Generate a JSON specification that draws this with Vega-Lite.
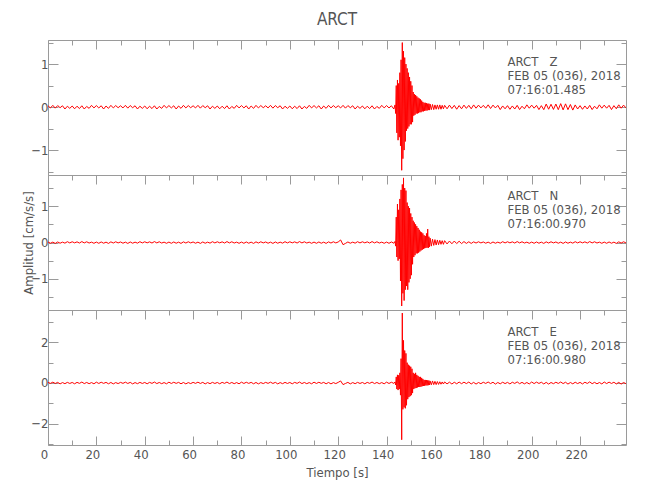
{
  "$schema": "https://vega.github.io/schema/vega-lite/v6.json",
  "background": "white",
  "padding": {"left": 22, "top": 10, "right": 5, "bottom": 5},
  "bounds": "flush",
  "spacing": 0,
  "datasets": {
    "seis": [
      {"t":0,"Z":0.03,"N":0.015,"E":0.03},{"t":1,"Z":-0.02,"N":-0.02,"E":-0.02},{"t":2,"Z":0.04,"N":0.01,"E":0.04},{"t":3,"Z":-0.025,"N":-0.025,"E":-0.025},{"t":4,"Z":0.035,"N":0.015,"E":0.03},{"t":5,"Z":-0.015,"N":-0.02,"E":-0.045},{"t":6,"Z":0.03,"N":0.01,"E":0.02},{"t":7,"Z":-0.045,"N":-0.018,"E":-0.035},{"t":8,"Z":0.02,"N":0.022,"E":0.03},{"t":9,"Z":-0.03,"N":-0.012,"E":-0.025},
      {"t":10,"Z":0.025,"N":0.02,"E":0.025},{"t":11,"Z":-0.04,"N":-0.01,"E":-0.04},{"t":12,"Z":0.02,"N":0.018,"E":0.03},{"t":13,"Z":-0.035,"N":-0.015,"E":-0.02},{"t":14,"Z":0.03,"N":0.025,"E":0.045},{"t":15,"Z":-0.045,"N":-0.012,"E":-0.03},{"t":16,"Z":0.015,"N":0.02,"E":0.025},{"t":17,"Z":-0.03,"N":-0.015,"E":-0.035},{"t":18,"Z":0.04,"N":0.01,"E":0.02},{"t":19,"Z":-0.02,"N":-0.022,"E":-0.04},
      {"t":20,"Z":0.035,"N":0.012,"E":0.04},{"t":21,"Z":-0.02,"N":-0.022,"E":-0.025},{"t":22,"Z":0.03,"N":0.015,"E":0.035},{"t":23,"Z":-0.045,"N":-0.02,"E":-0.02},{"t":24,"Z":0.025,"N":0.01,"E":0.03},{"t":25,"Z":-0.03,"N":-0.025,"E":-0.04},{"t":26,"Z":0.04,"N":0.018,"E":0.025},{"t":27,"Z":-0.02,"N":-0.015,"E":-0.045},{"t":28,"Z":0.035,"N":0.02,"E":0.02},{"t":29,"Z":-0.015,"N":-0.012,"E":-0.03},
      {"t":30,"Z":0.03,"N":0.015,"E":0.03},{"t":31,"Z":-0.02,"N":-0.02,"E":-0.02},{"t":32,"Z":0.04,"N":0.01,"E":0.04},{"t":33,"Z":-0.025,"N":-0.025,"E":-0.025},{"t":34,"Z":0.035,"N":0.015,"E":0.03},{"t":35,"Z":-0.015,"N":-0.02,"E":-0.045},{"t":36,"Z":0.03,"N":0.01,"E":0.02},{"t":37,"Z":-0.045,"N":-0.018,"E":-0.035},{"t":38,"Z":0.02,"N":0.022,"E":0.03},{"t":39,"Z":-0.03,"N":-0.012,"E":-0.025},
      {"t":40,"Z":0.025,"N":0.02,"E":0.025},{"t":41,"Z":-0.04,"N":-0.01,"E":-0.04},{"t":42,"Z":0.02,"N":0.018,"E":0.03},{"t":43,"Z":-0.035,"N":-0.015,"E":-0.02},{"t":44,"Z":0.03,"N":0.025,"E":0.045},{"t":45,"Z":-0.045,"N":-0.012,"E":-0.03},{"t":46,"Z":0.015,"N":0.02,"E":0.025},{"t":47,"Z":-0.03,"N":-0.015,"E":-0.035},{"t":48,"Z":0.04,"N":0.01,"E":0.02},{"t":49,"Z":-0.02,"N":-0.022,"E":-0.04},
      {"t":50,"Z":0.035,"N":0.012,"E":0.04},{"t":51,"Z":-0.02,"N":-0.022,"E":-0.025},{"t":52,"Z":0.03,"N":0.015,"E":0.035},{"t":53,"Z":-0.045,"N":-0.02,"E":-0.02},{"t":54,"Z":0.025,"N":0.01,"E":0.03},{"t":55,"Z":-0.03,"N":-0.025,"E":-0.04},{"t":56,"Z":0.04,"N":0.018,"E":0.025},{"t":57,"Z":-0.02,"N":-0.015,"E":-0.045},{"t":58,"Z":0.035,"N":0.02,"E":0.02},{"t":59,"Z":-0.015,"N":-0.012,"E":-0.03},
      {"t":60,"Z":0.03,"N":0.015,"E":0.03},{"t":61,"Z":-0.02,"N":-0.02,"E":-0.02},{"t":62,"Z":0.04,"N":0.01,"E":0.04},{"t":63,"Z":-0.025,"N":-0.025,"E":-0.025},{"t":64,"Z":0.035,"N":0.015,"E":0.03},{"t":65,"Z":-0.015,"N":-0.02,"E":-0.045},{"t":66,"Z":0.03,"N":0.01,"E":0.02},{"t":67,"Z":-0.045,"N":-0.018,"E":-0.035},{"t":68,"Z":0.02,"N":0.022,"E":0.03},{"t":69,"Z":-0.03,"N":-0.012,"E":-0.025},
      {"t":70,"Z":0.025,"N":0.02,"E":0.025},{"t":71,"Z":-0.04,"N":-0.01,"E":-0.04},{"t":72,"Z":0.02,"N":0.018,"E":0.03},{"t":73,"Z":-0.035,"N":-0.015,"E":-0.02},{"t":74,"Z":0.03,"N":0.025,"E":0.045},{"t":75,"Z":-0.045,"N":-0.012,"E":-0.03},{"t":76,"Z":0.015,"N":0.02,"E":0.025},{"t":77,"Z":-0.03,"N":-0.015,"E":-0.035},{"t":78,"Z":0.04,"N":0.01,"E":0.02},{"t":79,"Z":-0.02,"N":-0.022,"E":-0.04},
      {"t":80,"Z":0.035,"N":0.012,"E":0.04},{"t":81,"Z":-0.02,"N":-0.022,"E":-0.025},{"t":82,"Z":0.03,"N":0.015,"E":0.035},{"t":83,"Z":-0.045,"N":-0.02,"E":-0.02},{"t":84,"Z":0.025,"N":0.01,"E":0.03},{"t":85,"Z":-0.03,"N":-0.025,"E":-0.04},{"t":86,"Z":0.04,"N":0.018,"E":0.025},{"t":87,"Z":-0.02,"N":-0.015,"E":-0.045},{"t":88,"Z":0.035,"N":0.02,"E":0.02},{"t":89,"Z":-0.015,"N":-0.012,"E":-0.03},
      {"t":90,"Z":0.03,"N":0.015,"E":0.03},{"t":91,"Z":-0.02,"N":-0.02,"E":-0.02},{"t":92,"Z":0.04,"N":0.01,"E":0.04},{"t":93,"Z":-0.025,"N":-0.025,"E":-0.025},{"t":94,"Z":0.035,"N":0.015,"E":0.03},{"t":95,"Z":-0.015,"N":-0.02,"E":-0.045},{"t":96,"Z":0.03,"N":0.01,"E":0.02},{"t":97,"Z":-0.045,"N":-0.018,"E":-0.035},{"t":98,"Z":0.02,"N":0.022,"E":0.03},{"t":99,"Z":-0.03,"N":-0.012,"E":-0.025},
      {"t":100,"Z":0.025,"N":0.02,"E":0.025},{"t":101,"Z":-0.04,"N":-0.01,"E":-0.04},{"t":102,"Z":0.02,"N":0.018,"E":0.03},{"t":103,"Z":-0.035,"N":-0.015,"E":-0.02},{"t":104,"Z":0.03,"N":0.025,"E":0.045},{"t":105,"Z":-0.045,"N":-0.012,"E":-0.03},{"t":106,"Z":0.015,"N":0.02,"E":0.025},{"t":107,"Z":-0.03,"N":-0.015,"E":-0.035},{"t":108,"Z":0.04,"N":0.01,"E":0.02},{"t":109,"Z":-0.02,"N":-0.022,"E":-0.04},
      {"t":110,"Z":0.035,"N":0.012,"E":0.04},{"t":111,"Z":-0.02,"N":-0.022,"E":-0.025},{"t":112,"Z":0.03,"N":0.015,"E":0.035},{"t":113,"Z":-0.045,"N":-0.02,"E":-0.02},{"t":114,"Z":0.025,"N":0.01,"E":0.03},{"t":115,"Z":-0.03,"N":-0.025,"E":-0.04},{"t":116,"Z":0.04,"N":0.018,"E":0.025},{"t":117,"Z":-0.02,"N":-0.015,"E":-0.045},{"t":118,"Z":0.035,"N":0.02,"E":0.02},{"t":119,"Z":-0.015,"N":-0.012,"E":-0.03},
      {"t":120,"Z":0.03,"N":0.015,"E":0.03},{"t":121,"Z":-0.02,"N":0.07,"E":0.1},{"t":122,"Z":0.04,"N":-0.06,"E":-0.08},{"t":123,"Z":-0.025,"N":-0.025,"E":-0.025},{"t":124,"Z":0.035,"N":0.015,"E":0.03},{"t":125,"Z":-0.015,"N":-0.02,"E":-0.045},{"t":126,"Z":0.03,"N":0.01,"E":0.02},{"t":127,"Z":-0.045,"N":-0.018,"E":-0.035},{"t":128,"Z":0.02,"N":0.022,"E":0.03},{"t":129,"Z":-0.03,"N":-0.012,"E":-0.025},
      {"t":130,"Z":0.025,"N":0.02,"E":0.025},{"t":131,"Z":-0.04,"N":-0.01,"E":-0.04},{"t":132,"Z":0.02,"N":0.018,"E":0.03},{"t":133,"Z":-0.035,"N":-0.015,"E":-0.02},{"t":134,"Z":0.03,"N":0.025,"E":0.045},{"t":135,"Z":-0.045,"N":-0.012,"E":-0.03},{"t":136,"Z":0.015,"N":0.02,"E":0.025},{"t":137,"Z":-0.03,"N":-0.015,"E":-0.035},{"t":138,"Z":0.04,"N":0.01,"E":0.02},{"t":139,"Z":-0.02,"N":-0.022,"E":-0.04},
      {"t":140,"Z":0.035,"N":0.012,"E":0.04},{"t":141,"Z":-0.02,"N":-0.022,"E":-0.025},{"t":142,"Z":0.03,"N":0.015,"E":0.035},{"t":143,"Z":-0.045,"N":-0.02,"E":-0.02},
      {"t":143.5,"Z":0.05,"N":0.03,"E":0.05},{"t":143.75,"Z":-0.15,"N":-0.1,"E":-0.1},{"t":144,"Z":0.5,"N":0.7,"E":0.3},{"t":144.25,"Z":-0.6,"N":-0.4,"E":-0.3},{"t":144.5,"Z":0.63,"N":1.06,"E":0.4},{"t":144.75,"Z":-0.77,"N":-0.5,"E":-0.35},{"t":145,"Z":0.55,"N":0.9,"E":0.38},{"t":145.25,"Z":-0.7,"N":-0.45,"E":-0.3},{"t":145.5,"Z":0.8,"N":1.2,"E":0.5},{"t":145.75,"Z":-0.9,"N":-1.06,"E":-0.6},
      {"t":146,"Z":1.1,"N":1.45,"E":1.2},{"t":146.25,"Z":-1.47,"N":-1.75,"E":-2.8},{"t":146.5,"Z":1.5,"N":1.6,"E":3.45},{"t":146.75,"Z":-1.2,"N":-1.4,"E":-1.3},{"t":147,"Z":1.3,"N":1.78,"E":2.1},{"t":147.25,"Z":-1.0,"N":-1.6,"E":-1.2},{"t":147.5,"Z":1.15,"N":1.5,"E":1.6},{"t":147.75,"Z":-0.8,"N":-1.3,"E":-1.25},{"t":148,"Z":1.0,"N":1.43,"E":1.46},{"t":148.25,"Z":-0.55,"N":-1.2,"E":-1.1},
      {"t":148.5,"Z":0.9,"N":1.1,"E":1.0},{"t":148.75,"Z":-0.5,"N":-1.3,"E":-0.8},{"t":149,"Z":0.8,"N":1.0,"E":0.9},{"t":149.25,"Z":-0.45,"N":-1.1,"E":-0.7},{"t":149.5,"Z":0.7,"N":0.95,"E":0.85},{"t":149.75,"Z":-0.4,"N":-1.0,"E":-0.65},{"t":150,"Z":0.6,"N":0.8,"E":0.8},{"t":150.25,"Z":-0.4,"N":-0.9,"E":-0.6},{"t":150.5,"Z":0.5,"N":0.7,"E":0.7},{"t":150.75,"Z":-0.35,"N":-0.6,"E":-0.5},
      {"t":151,"Z":0.35,"N":0.6,"E":0.5},{"t":151.25,"Z":-0.2,"N":-0.4,"E":-0.3},{"t":151.5,"Z":0.3,"N":0.55,"E":0.45},{"t":151.75,"Z":-0.18,"N":-0.35,"E":-0.26},{"t":152,"Z":0.28,"N":0.5,"E":0.5},{"t":152.25,"Z":-0.15,"N":-0.3,"E":-0.25},{"t":152.5,"Z":0.25,"N":0.45,"E":0.4},{"t":152.75,"Z":-0.15,"N":-0.3,"E":-0.22},{"t":153,"Z":0.22,"N":0.4,"E":0.35},{"t":153.25,"Z":-0.14,"N":-0.28,"E":-0.2},
      {"t":153.5,"Z":0.2,"N":0.35,"E":0.3},{"t":153.75,"Z":-0.12,"N":-0.25,"E":-0.2},{"t":154,"Z":0.18,"N":0.3,"E":0.3},{"t":154.25,"Z":-0.12,"N":-0.22,"E":-0.18},{"t":154.5,"Z":0.15,"N":0.28,"E":0.25},{"t":154.75,"Z":-0.1,"N":-0.2,"E":-0.16},{"t":155,"Z":0.12,"N":0.25,"E":0.2},{"t":155.25,"Z":-0.1,"N":-0.18,"E":-0.15},{"t":155.5,"Z":0.1,"N":0.2,"E":0.15},{"t":155.75,"Z":-0.09,"N":-0.16,"E":-0.14},
      {"t":156,"Z":0.1,"N":0.18,"E":0.15},{"t":156.25,"Z":-0.08,"N":-0.15,"E":-0.12},{"t":156.5,"Z":0.09,"N":0.25,"E":0.14},{"t":156.75,"Z":-0.08,"N":-0.14,"E":-0.12},{"t":157,"Z":0.08,"N":0.37,"E":0.13},{"t":157.25,"Z":-0.07,"N":-0.15,"E":-0.11},{"t":157.5,"Z":0.08,"N":0.16,"E":0.12},{"t":157.75,"Z":-0.07,"N":-0.12,"E":-0.1},{"t":158,"Z":0.07,"N":0.12,"E":0.1},
      {"t":158.5,"Z":-0.06,"N":-0.1,"E":-0.09},{"t":159,"Z":0.06,"N":0.09,"E":0.1},{"t":159.5,"Z":-0.06,"N":-0.08,"E":-0.08},{"t":160,"Z":0.05,"N":0.08,"E":0.08},{"t":160.5,"Z":-0.05,"N":-0.07,"E":-0.08},{"t":161,"Z":0.05,"N":0.07,"E":0.07},{"t":161.5,"Z":-0.05,"N":-0.06,"E":-0.07},{"t":162,"Z":0.05,"N":0.06,"E":0.06},{"t":162.5,"Z":-0.05,"N":-0.05,"E":-0.06},{"t":163,"Z":0.04,"N":0.05,"E":0.05},{"t":163.5,"Z":-0.04,"N":-0.05,"E":-0.05},{"t":164,"Z":0.04,"N":0.05,"E":0.05},
      {"t":165,"Z":-0.04,"N":-0.04,"E":-0.045},{"t":166,"Z":0.045,"N":0.04,"E":0.04},{"t":167,"Z":-0.035,"N":-0.035,"E":-0.05},{"t":168,"Z":0.04,"N":0.04,"E":0.035},{"t":169,"Z":-0.05,"N":-0.03,"E":-0.04},{"t":170,"Z":0.035,"N":0.035,"E":0.045},{"t":171,"Z":-0.04,"N":-0.03,"E":-0.035},{"t":172,"Z":0.045,"N":0.025,"E":0.04},{"t":173,"Z":-0.03,"N":-0.025,"E":-0.03},{"t":174,"Z":0.04,"N":0.02,"E":0.045},
      {"t":175,"Z":-0.04,"N":-0.025,"E":-0.048},{"t":176,"Z":0.05,"N":0.018,"E":0.03},{"t":177,"Z":-0.026,"N":-0.015,"E":-0.054},{"t":178,"Z":0.045,"N":0.02,"E":0.024},{"t":179,"Z":-0.02,"N":-0.012,"E":-0.036},
      {"t":180,"Z":0.04,"N":0.015,"E":0.036},{"t":181,"Z":-0.026,"N":-0.02,"E":-0.024},{"t":182,"Z":0.052,"N":0.01,"E":0.048},{"t":183,"Z":-0.033,"N":-0.025,"E":-0.03},{"t":184,"Z":0.045,"N":0.015,"E":0.036},{"t":185,"Z":-0.02,"N":-0.02,"E":-0.054},{"t":186,"Z":0.04,"N":0.01,"E":0.024},{"t":187,"Z":-0.058,"N":-0.018,"E":-0.042},{"t":188,"Z":0.026,"N":0.022,"E":0.036},{"t":189,"Z":-0.04,"N":-0.012,"E":-0.03},
      {"t":190,"Z":0.033,"N":0.02,"E":0.03},{"t":191,"Z":-0.052,"N":-0.01,"E":-0.048},{"t":192,"Z":0.026,"N":0.018,"E":0.036},{"t":193,"Z":-0.045,"N":-0.015,"E":-0.024},{"t":194,"Z":0.04,"N":0.025,"E":0.054},{"t":195,"Z":-0.058,"N":-0.012,"E":-0.036},{"t":196,"Z":0.02,"N":0.02,"E":0.03},{"t":197,"Z":-0.04,"N":-0.015,"E":-0.042},{"t":198,"Z":0.052,"N":0.01,"E":0.024},{"t":199,"Z":-0.026,"N":-0.022,"E":-0.048},
      {"t":200,"Z":0.045,"N":0.012,"E":0.048},{"t":201,"Z":-0.026,"N":-0.022,"E":-0.03},{"t":202,"Z":0.04,"N":0.015,"E":0.042},{"t":203,"Z":-0.058,"N":-0.02,"E":-0.024},{"t":204,"Z":0.033,"N":0.01,"E":0.036},{"t":205,"Z":-0.06,"N":-0.025,"E":-0.048},{"t":206,"Z":0.07,"N":0.018,"E":0.03},{"t":207,"Z":-0.05,"N":-0.015,"E":-0.054},{"t":208,"Z":0.065,"N":0.02,"E":0.024},{"t":209,"Z":-0.055,"N":-0.012,"E":-0.036},
      {"t":210,"Z":0.07,"N":0.015,"E":0.036},{"t":211,"Z":-0.06,"N":-0.02,"E":-0.024},{"t":212,"Z":0.08,"N":0.01,"E":0.048},{"t":213,"Z":-0.065,"N":-0.025,"E":-0.03},{"t":214,"Z":0.075,"N":0.015,"E":0.036},{"t":215,"Z":-0.06,"N":-0.02,"E":-0.054},{"t":216,"Z":0.06,"N":0.01,"E":0.024},{"t":217,"Z":-0.07,"N":-0.018,"E":-0.042},{"t":218,"Z":0.05,"N":0.022,"E":0.036},{"t":219,"Z":-0.045,"N":-0.012,"E":-0.03},
      {"t":220,"Z":0.033,"N":0.02,"E":0.03},{"t":221,"Z":-0.052,"N":-0.01,"E":-0.048},{"t":222,"Z":0.026,"N":0.018,"E":0.036},{"t":223,"Z":-0.045,"N":-0.015,"E":-0.024},{"t":224,"Z":0.04,"N":0.025,"E":0.054},{"t":225,"Z":-0.058,"N":-0.012,"E":-0.036},{"t":226,"Z":0.02,"N":0.02,"E":0.03},{"t":227,"Z":-0.04,"N":-0.015,"E":-0.042},{"t":228,"Z":0.052,"N":0.01,"E":0.024},{"t":229,"Z":-0.026,"N":-0.022,"E":-0.048},
      {"t":230,"Z":0.045,"N":0.012,"E":0.048},{"t":231,"Z":-0.026,"N":-0.022,"E":-0.03},{"t":232,"Z":0.04,"N":0.015,"E":0.042},{"t":233,"Z":-0.058,"N":-0.02,"E":-0.024},{"t":234,"Z":0.033,"N":0.01,"E":0.036},{"t":235,"Z":-0.04,"N":-0.025,"E":-0.048},{"t":236,"Z":0.052,"N":0.018,"E":0.03},{"t":237,"Z":-0.026,"N":-0.015,"E":-0.054},{"t":238,"Z":0.045,"N":0.02,"E":0.024},{"t":239,"Z":-0.02,"N":-0.012,"E":-0.036}
    ]
  },
  "vconcat": [
    {
      "width": 578, "height": 135,
      "title": {"text": "ARCT", "anchor": "middle", "frame": "group", "baseline": "alphabetic", "offset": -2},
      "resolve": {"axis": {"x": "independent", "y": "independent"}},
      "layer": [
        {"data": {"name": "seis"}, "mark": {"type": "line", "color": "#ff0000", "strokeWidth": 1, "clip": true},
         "encoding": {
           "x": {"field": "t", "type": "quantitative", "scale": {"domain": [0, 239], "nice": false, "zero": false}, "axis": {"orient": "top", "values": [0,20,40,60,80,100,120,140,160,180,200,220], "tickSize": -9, "labels": false, "title": null}},
           "y": {"field": "Z", "type": "quantitative", "scale": {"domain": [-1.58, 1.56], "nice": false, "zero": false}, "axis": {"orient": "left", "values": [-1,0,1], "tickSize": -10, "labelPadding": 10, "title": null}}}},
        {"data": {"name": "seis"}, "mark": {"type": "line", "opacity": 0},
         "encoding": {
           "x": {"field": "t", "type": "quantitative", "scale": {"domain": [0, 239], "nice": false, "zero": false}, "axis": {"orient": "top", "values": [10,30,50,70,90,110,130,150,170,190,210,230], "tickSize": -5, "labels": false, "title": null}},
           "y": {"field": "Z", "type": "quantitative", "scale": {"domain": [-1.58, 1.56], "nice": false, "zero": false}, "axis": {"orient": "left", "values": [-1.5,-0.5,0.5,1.5], "tickSize": -5, "labels": false, "title": null}}}},
        {"data": {"name": "seis"}, "mark": {"type": "line", "opacity": 0},
         "encoding": {
           "x": {"field": "t", "type": "quantitative", "scale": {"domain": [0, 239], "nice": false, "zero": false}, "axis": null},
           "y": {"field": "Z", "type": "quantitative", "scale": {"domain": [-1.58, 1.56], "nice": false, "zero": false}, "axis": {"orient": "right", "values": [-1,0,1], "tickSize": -10, "labels": false, "title": null}}}},
        {"data": {"name": "seis"}, "mark": {"type": "line", "opacity": 0},
         "encoding": {
           "x": {"field": "t", "type": "quantitative", "scale": {"domain": [0, 239], "nice": false, "zero": false}, "axis": null},
           "y": {"field": "Z", "type": "quantitative", "scale": {"domain": [-1.58, 1.56], "nice": false, "zero": false}, "axis": {"orient": "right", "values": [-1.5,-0.5,0.5,1.5], "tickSize": -5, "labels": false, "title": null}}}},
        {"data": {"values": [{"label": "ARCT\u00a0\u00a0\u00a0Z\nFEB 05 (036), 2018\n07:16:01.485"}]},
         "mark": {"type": "text", "align": "left", "baseline": "top", "lineBreak": "\n", "lineHeight": 14, "fontSize": 13, "font": "Liberation Sans Narrow, DejaVu Sans Condensed, sans-serif", "color": "#555555"},
         "encoding": {
           "x": {"datum": 190, "type": "quantitative", "scale": {"domain": [0, 239], "nice": false, "zero": false}, "axis": null},
           "y": {"datum": 1.19, "type": "quantitative", "scale": {"domain": [-1.58, 1.56], "nice": false, "zero": false}, "axis": null},
           "text": {"field": "label"}}}
      ]
    },
    {
      "width": 578, "height": 135,
      "resolve": {"axis": {"x": "independent", "y": "independent"}},
      "layer": [
        {"data": {"name": "seis"}, "mark": {"type": "line", "color": "#ff0000", "strokeWidth": 1, "clip": true},
         "encoding": {
           "x": {"field": "t", "type": "quantitative", "scale": {"domain": [0, 239], "nice": false, "zero": false}, "axis": {"orient": "top", "values": [0,20,40,60,80,100,120,140,160,180,200,220], "tickSize": -9, "labels": false, "title": null}},
           "y": {"field": "N", "type": "quantitative", "scale": {"domain": [-1.86, 1.86], "nice": false, "zero": false}, "axis": {"orient": "left", "values": [-1,0,1], "tickSize": -10, "labelPadding": 10, "title": "Amplitud [cm/s/s]", "titlePadding": -5}}}},
        {"data": {"name": "seis"}, "mark": {"type": "line", "opacity": 0},
         "encoding": {
           "x": {"field": "t", "type": "quantitative", "scale": {"domain": [0, 239], "nice": false, "zero": false}, "axis": {"orient": "top", "values": [10,30,50,70,90,110,130,150,170,190,210,230], "tickSize": -5, "labels": false, "title": null}},
           "y": {"field": "N", "type": "quantitative", "scale": {"domain": [-1.86, 1.86], "nice": false, "zero": false}, "axis": {"orient": "left", "values": [-1.5,-0.5,0.5,1.5], "tickSize": -5, "labels": false, "title": null}}}},
        {"data": {"name": "seis"}, "mark": {"type": "line", "opacity": 0},
         "encoding": {
           "x": {"field": "t", "type": "quantitative", "scale": {"domain": [0, 239], "nice": false, "zero": false}, "axis": null},
           "y": {"field": "N", "type": "quantitative", "scale": {"domain": [-1.86, 1.86], "nice": false, "zero": false}, "axis": {"orient": "right", "values": [-1,0,1], "tickSize": -10, "labels": false, "title": null}}}},
        {"data": {"name": "seis"}, "mark": {"type": "line", "opacity": 0},
         "encoding": {
           "x": {"field": "t", "type": "quantitative", "scale": {"domain": [0, 239], "nice": false, "zero": false}, "axis": null},
           "y": {"field": "N", "type": "quantitative", "scale": {"domain": [-1.86, 1.86], "nice": false, "zero": false}, "axis": {"orient": "right", "values": [-1.5,-0.5,0.5,1.5], "tickSize": -5, "labels": false, "title": null}}}},
        {"data": {"values": [{"label": "ARCT\u00a0\u00a0\u00a0N\nFEB 05 (036), 2018\n07:16:00.970"}]},
         "mark": {"type": "text", "align": "left", "baseline": "top", "lineBreak": "\n", "lineHeight": 14, "fontSize": 13, "font": "Liberation Sans Narrow, DejaVu Sans Condensed, sans-serif", "color": "#555555"},
         "encoding": {
           "x": {"datum": 190, "type": "quantitative", "scale": {"domain": [0, 239], "nice": false, "zero": false}, "axis": null},
           "y": {"datum": 1.44, "type": "quantitative", "scale": {"domain": [-1.86, 1.86], "nice": false, "zero": false}, "axis": null},
           "text": {"field": "label"}}}
      ]
    },
    {
      "width": 578, "height": 135,
      "resolve": {"axis": {"x": "independent", "y": "independent"}},
      "layer": [
        {"data": {"name": "seis"}, "mark": {"type": "line", "color": "#ff0000", "strokeWidth": 1, "clip": true},
         "encoding": {
           "x": {"field": "t", "type": "quantitative", "scale": {"domain": [0, 239], "nice": false, "zero": false}, "axis": {"orient": "top", "values": [0,20,40,60,80,100,120,140,160,180,200,220], "tickSize": -9, "labels": false, "title": null}},
           "y": {"field": "E", "type": "quantitative", "scale": {"domain": [-3.06, 3.6], "nice": false, "zero": false}, "axis": {"orient": "left", "values": [-2,0,2], "tickSize": -10, "labelPadding": 10, "title": null}}}},
        {"data": {"name": "seis"}, "mark": {"type": "line", "opacity": 0},
         "encoding": {
           "x": {"field": "t", "type": "quantitative", "scale": {"domain": [0, 239], "nice": false, "zero": false}, "axis": {"orient": "top", "values": [10,30,50,70,90,110,130,150,170,190,210,230], "tickSize": -5, "labels": false, "title": null}},
           "y": {"field": "E", "type": "quantitative", "scale": {"domain": [-3.06, 3.6], "nice": false, "zero": false}, "axis": {"orient": "left", "values": [-3,-1,1,3], "tickSize": -5, "labels": false, "title": null}}}},
        {"data": {"name": "seis"}, "mark": {"type": "line", "opacity": 0},
         "encoding": {
           "x": {"field": "t", "type": "quantitative", "scale": {"domain": [0, 239], "nice": false, "zero": false}, "axis": {"orient": "bottom", "values": [0,20,40,60,80,100,120,140,160,180,200,220], "tickSize": -9, "labelPadding": 12, "labelFlush": false, "labelOffset": -4, "title": "Tiempo [s]", "titlePadding": 5}},
           "y": {"field": "E", "type": "quantitative", "scale": {"domain": [-3.06, 3.6], "nice": false, "zero": false}, "axis": {"orient": "right", "values": [-2,0,2], "tickSize": -10, "labels": false, "title": null}}}},
        {"data": {"name": "seis"}, "mark": {"type": "line", "opacity": 0},
         "encoding": {
           "x": {"field": "t", "type": "quantitative", "scale": {"domain": [0, 239], "nice": false, "zero": false}, "axis": {"orient": "bottom", "values": [10,30,50,70,90,110,130,150,170,190,210,230], "tickSize": -5, "labels": false, "title": null}},
           "y": {"field": "E", "type": "quantitative", "scale": {"domain": [-3.06, 3.6], "nice": false, "zero": false}, "axis": {"orient": "right", "values": [-3,-1,1,3], "tickSize": -5, "labels": false, "title": null}}}},
        {"data": {"values": [{"label": "ARCT\u00a0\u00a0\u00a0E\nFEB 05 (036), 2018\n07:16:00.980"}]},
         "mark": {"type": "text", "align": "left", "baseline": "top", "lineBreak": "\n", "lineHeight": 14, "fontSize": 13, "font": "Liberation Sans Narrow, DejaVu Sans Condensed, sans-serif", "color": "#555555"},
         "encoding": {
           "x": {"datum": 190, "type": "quantitative", "scale": {"domain": [0, 239], "nice": false, "zero": false}, "axis": null},
           "y": {"datum": 2.81, "type": "quantitative", "scale": {"domain": [-3.06, 3.6], "nice": false, "zero": false}, "axis": null},
           "text": {"field": "label"}}}
      ]
    }
  ],
  "config": {
    "view": {"stroke": "#9a9a9a", "strokeWidth": 1},
    "axis": {"domain": false, "grid": false, "tickColor": "#9a9a9a", "tickWidth": 1, "labelFont": "Liberation Sans Narrow, DejaVu Sans Condensed, sans-serif", "labelFontSize": 13, "labelColor": "#555555", "titleFont": "Liberation Sans Narrow, DejaVu Sans Condensed, sans-serif", "titleFontSize": 13, "titleFontWeight": "normal", "titleColor": "#555555", "minExtent": 0},
    "title": {"font": "Liberation Sans Narrow, DejaVu Sans Condensed, sans-serif", "fontSize": 17, "fontWeight": "normal", "color": "#555555"}
  }
}
